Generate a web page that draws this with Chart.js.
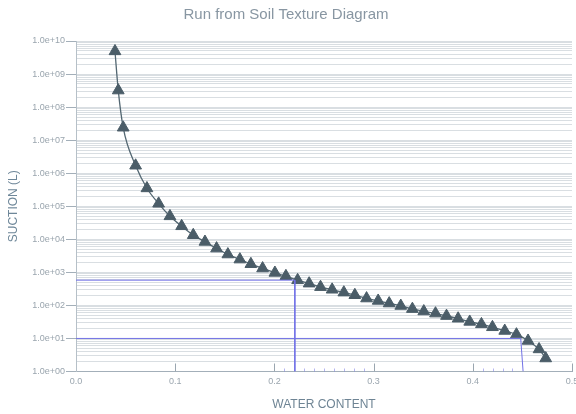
<!DOCTYPE html>
<html>
<head>
<meta charset="utf-8">
<title>Run from Soil Texture Diagram</title>
<script src="https://cdn.jsdelivr.net/npm/chart.js@4/dist/chart.umd.min.js"></script>
<style>
  html, body { margin: 0; padding: 0; background: #ffffff; }
  #wrap { width: 576px; height: 414px; }
</style>
</head>
<body>
<div id="wrap"><canvas id="chart" width="576" height="414"></canvas></div>
<script>
// Retention curve: water content vs. suction
const waterContent = [
  0.0393, 0.0426, 0.0476, 0.0601, 0.0715, 0.0833, 0.0947, 0.1065, 0.1182, 0.1300,
  0.1417, 0.1531, 0.1652, 0.1763, 0.1881, 0.2005, 0.2116, 0.2234, 0.2350, 0.2465,
  0.2582, 0.2700, 0.2811, 0.2929, 0.3046, 0.3157, 0.3274, 0.3391, 0.3506, 0.3624,
  0.3735, 0.3852, 0.3969, 0.4087, 0.4198, 0.4322, 0.4440, 0.4557, 0.4668, 0.4735
];
const suction = [
  4.9e9, 3.2e8, 2.4e7, 1.7e6, 3.5e5, 1.2e5, 5.0e4, 2.5e4, 1.34e4, 8.4e3,
  5.3e3, 3.5e3, 2.46e3, 1.78e3, 1.32e3, 970, 770, 580, 460, 360,
  300, 246, 205, 163, 138, 115, 97, 78, 66, 57,
  48, 40, 32, 27, 22, 17, 13.2, 8.5, 4.7, 2.5
];

// Read-off guide lines (blue)
const guideA_x = [0, 0.2206, 0.2206];
const guideA_y = [580, 580, 1];
const guideB_x = [0, 0.4483, 0.4507];
const guideB_y = [10, 10, 1];

// Axis ticks
const xTickValues = [0, 0.1, 0.2, 0.3, 0.4, 0.5];
const xTickLabels = ['0.0', '0.1', '0.2', '0.3', '0.4', '0.5'];
const yDecades = [0, 1, 2, 3, 4, 5, 6, 7, 8, 9, 10];
const yTickLabels = ['1.0e+00', '1.0e+01', '1.0e+02', '1.0e+03', '1.0e+04', '1.0e+05',
                     '1.0e+06', '1.0e+07', '1.0e+08', '1.0e+09', '1.0e+10'];
const xFineTicks = [0.21, 0.23, 0.24, 0.25, 0.26, 0.27, 0.28, 0.29, 0.41, 0.42, 0.43, 0.44];

const FONT = 'Liberation Sans, Arial, sans-serif';
const pts = (xs, ys) => xs.map((x, i) => ({ x: x, y: ys[i] }));

// log grid: 1..9 in every decade, labels on the decades only
function buildYTicks() {
  const t = [];
  for (let d = 0; d < yDecades.length; d++) {
    const base = Math.pow(10, yDecades[d]);
    if (d === yDecades.length - 1) { t.push({ value: base, major: true }); break; }
    for (let m = 1; m <= 9; m++) t.push({ value: m * base, major: m === 1 });
  }
  return t;
}

const innerTicks = {
  id: 'innerTicks',
  afterDatasetsDraw(chart) {
    const ctx = chart.ctx, xs = chart.scales.x, ca = chart.chartArea;
    ctx.save();
    ctx.lineWidth = 1;
    ctx.strokeStyle = '#9aa6b0';
    xTickValues.forEach(v => {
      if (v === 0) return;
      const px = Math.round(xs.getPixelForValue(v)) + 0.5;
      ctx.beginPath(); ctx.moveTo(px, ca.bottom); ctx.lineTo(px, ca.bottom - 8); ctx.stroke();
    });
    ctx.strokeStyle = 'rgba(120,120,230,0.55)';
    xFineTicks.forEach(v => {
      const px = Math.round(xs.getPixelForValue(v)) + 0.5;
      ctx.beginPath(); ctx.moveTo(px, ca.bottom); ctx.lineTo(px, ca.bottom - 3); ctx.stroke();
    });
    ctx.restore();
  }
};

new Chart(document.getElementById('chart'), {
  type: 'line',
  data: {
    datasets: [
      {
        data: pts(guideA_x, guideA_y),
        borderColor: '#7272e6', borderWidth: 1, pointRadius: 0, tension: 0, fill: false
      },
      {
        data: pts(guideB_x, guideB_y),
        borderColor: '#7272e6', borderWidth: 1, pointRadius: 0, tension: 0, fill: false
      },
      {
        data: pts(waterContent, suction),
        borderColor: '#536772', borderWidth: 1.3,
        cubicInterpolationMode: 'monotone',
        pointStyle: 'triangle', pointRadius: 6.8,
        pointBackgroundColor: '#4b5d68', pointBorderColor: '#4b5d68', pointBorderWidth: 1,
        fill: false
      }
    ]
  },
  options: {
    responsive: false,
    animation: false,
    events: [],
    layout: { autoPadding: false, padding: { left: 0, right: 4, top: 0, bottom: 0 } },
    plugins: {
      legend: { display: false },
      tooltip: { enabled: false },
      title: {
        display: true,
        text: 'Run from Soil Texture Diagram',
        color: '#8896a2',
        font: { family: FONT, size: 15, weight: 'normal', lineHeight: 1.2 },
        padding: { top: 6, bottom: 17 }
      }
    },
    scales: {
      x: {
        type: 'linear',
        min: 0, max: 0.5,
        afterBuildTicks(s) { s.ticks = xTickValues.map(v => ({ value: v })); },
        afterFit(s) { s.height = 42.5; s.paddingLeft = 0; s.paddingRight = 0; },
        ticks: {
          color: '#9aa5ae',
          font: { family: FONT, size: 9 },
          padding: 5,
          maxRotation: 0,
          autoSkip: false,
          callback(v, i) { return xTickLabels[i]; }
        },
        grid: { drawOnChartArea: false, drawTicks: false },
        border: { color: '#a3afb9', width: 1 },
        title: {
          display: true,
          text: 'WATER CONTENT',
          color: '#6e8494',
          font: { family: FONT, size: 12 },
          padding: { top: 0, bottom: 2 }
        }
      },
      y: {
        type: 'logarithmic',
        min: 1, max: 1e10,
        afterBuildTicks(s) { s.ticks = buildYTicks(); },
        afterFit(s) { s.width = 76; s.paddingTop = 0; s.paddingBottom = 0; },
        ticks: {
          color: '#9aa5ae',
          font: { family: FONT, size: 9 },
          padding: 1,
          autoSkip: false,
          callback(v) {
            const k = yDecades.findIndex(d => Math.abs(Math.pow(10, d) - v) < 1e-6 * v);
            return k >= 0 ? yTickLabels[k] : '';
          }
        },
        grid: {
          color: 'rgba(165,177,187,0.42)',
          lineWidth: 1,
          tickLength: 10,
          tickColor(c) { return c.tick && c.tick.major ? '#a3afb9' : 'rgba(0,0,0,0)'; }
        },
        border: { color: '#b6c0c8', width: 1 },
        title: {
          display: true,
          text: 'SUCTION (L)',
          color: '#6e8799',
          font: { family: FONT, size: 12 },
          padding: { top: 6, bottom: 0 }
        }
      }
    }
  },
  plugins: [innerTicks]
});
</script>
</body>
</html>
